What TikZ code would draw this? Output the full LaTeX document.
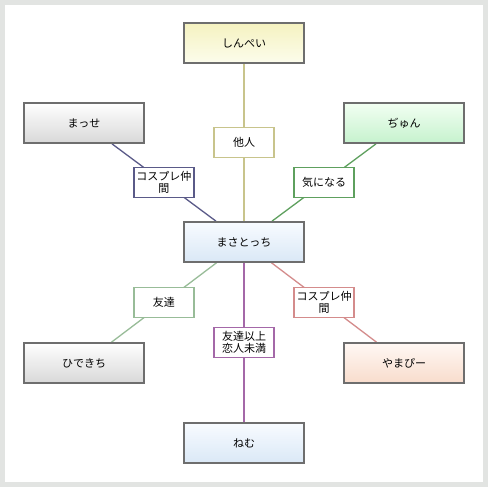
\documentclass[tikz,border=0pt]{standalone}
\usepackage{fontspec}
\setmainfont{Noto Sans CJK JP}
\usetikzlibrary{backgrounds}
\definecolor{frameg}{HTML}{E2E4E2}
\definecolor{nodeb}{HTML}{6E6E6E}
\definecolor{cyel}{HTML}{C8C48C}
\definecolor{cnav}{HTML}{5A5A88}
\definecolor{cgrn}{HTML}{5EA05E}
\definecolor{clgr}{HTML}{98BC98}
\definecolor{cpur}{HTML}{A468A8}
\definecolor{cred}{HTML}{D48C8C}
\definecolor{yelT}{HTML}{F5F2C0}
\definecolor{yelB}{HTML}{FCFCEC}
\definecolor{grayB}{HTML}{D8D8D8}
\definecolor{grnT}{HTML}{F2FFF2}
\definecolor{grnB}{HTML}{C6F2CE}
\definecolor{bluT}{HTML}{F8FBFF}
\definecolor{bluB}{HTML}{DAE8F6}
\definecolor{peaT}{HTML}{FFF8F4}
\definecolor{peaB}{HTML}{F8DCCC}
\tikzset{
  person/.style={draw=nodeb, line width=1.6pt, minimum width=120pt, minimum height=40pt, inner sep=0pt, font=\fontsize{11}{13}\selectfont},
  pyel/.style={person, top color=yelT, bottom color=yelB},
  pgray/.style={person, top color=white, bottom color=grayB},
  pgrn/.style={person, top color=grnT, bottom color=grnB},
  pblue/.style={person, top color=bluT, bottom color=bluB},
  ppeach/.style={person, top color=peaT, bottom color=peaB},
  lbl/.style={draw, fill=white, line width=1.3pt, minimum width=60pt, minimum height=30pt, inner sep=1pt, align=center, text=black, font=\fontsize{11}{11.5}\selectfont},
  rel/.style={line width=1.3pt}
}
\begin{document}
\begin{tikzpicture}[x=1pt,y=-1pt]
\useasboundingbox (0,0) rectangle (488,487);
\node[pyel]   (shinpei) at (244,43)  {しんぺい};
\node[pgray]  (masse)   at (84,123)  {まっせ};
\node[pgrn]   (chun)    at (404,123) {ぢゅん};
\node[pblue]  (masa)    at (244,242) {まさとっち};
\node[pgray]  (hide)    at (84,363)  {ひできち};
\node[ppeach] (yama)    at (404,363) {やまぴー};
\node[pblue]  (nemu)    at (244,443) {ねむ};
\begin{scope}[on background layer]
  \fill[frameg] (0,0) rectangle (488,487);
  \fill[white] (5,5) rectangle (483,482);
  \draw[rel, cyel] (masa) -- node[lbl, draw=cyel] (l1) {他人} (shinpei);
  \draw[rel, cnav] (masa) -- node[lbl, draw=cnav] (l2) {コスプレ仲\\間} (masse);
  \draw[rel, cgrn] (masa) -- node[lbl, draw=cgrn] (l3) {気になる} (chun);
  \draw[rel, clgr] (masa) -- node[lbl, draw=clgr] (l4) {友達} (hide);
  \draw[rel, cpur] (masa) -- node[lbl, draw=cpur] (l5) {友達以上\\恋人未満} (nemu);
  \draw[rel, cred] (masa) -- node[lbl, draw=cred] (l6) {コスプレ仲\\間} (yama);
\end{scope}
\end{tikzpicture}
\end{document}
